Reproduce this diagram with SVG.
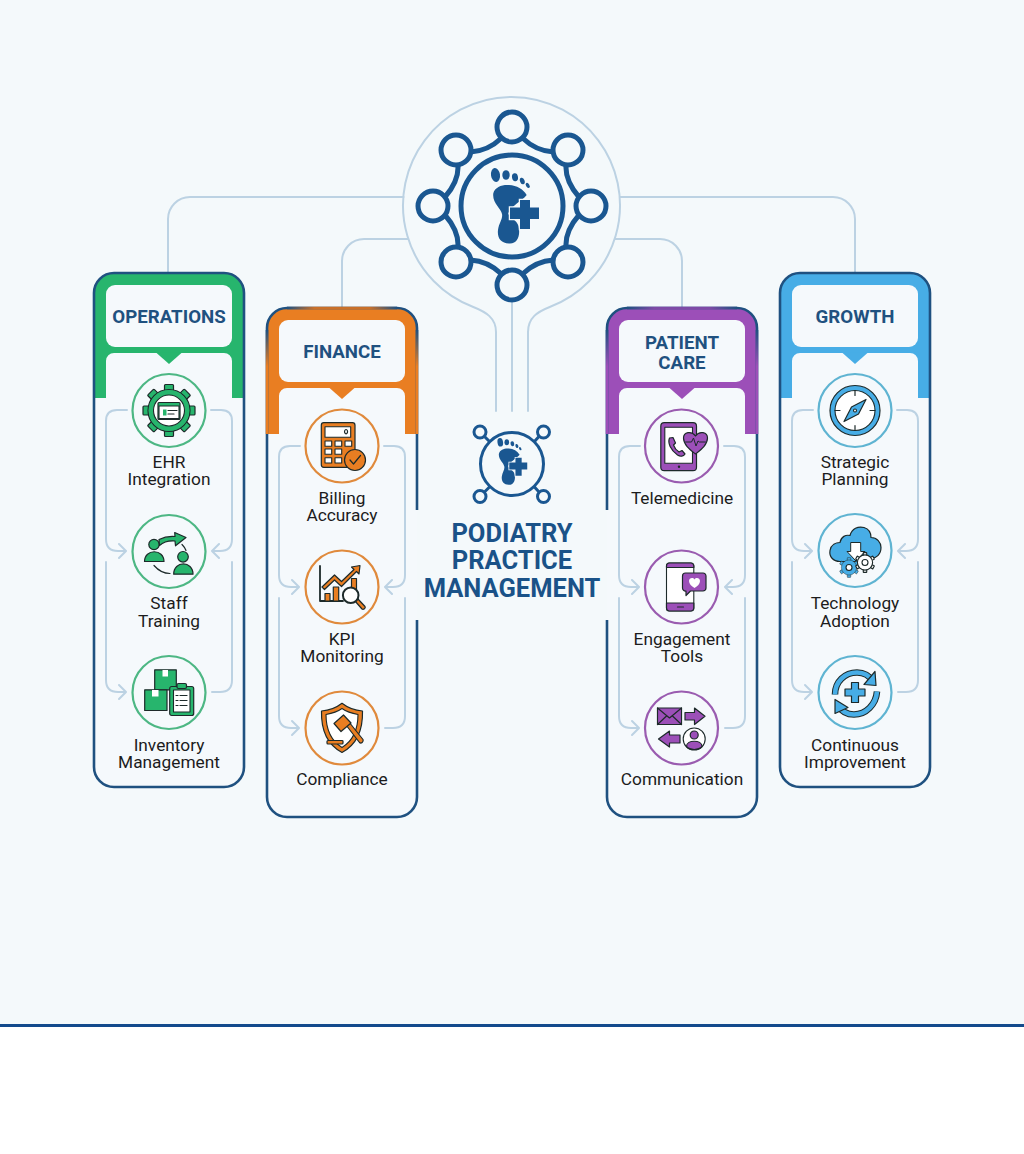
<svg xmlns="http://www.w3.org/2000/svg" xmlns:xlink="http://www.w3.org/1999/xlink" width="1024" height="1154" viewBox="0 0 1024 1154">
<style>
.conn{fill:none;stroke:#bcd2e3;stroke-width:2;stroke-linecap:round;stroke-linejoin:round}
.navy{fill:none;stroke:#1f5180;stroke-width:2.6}
.ring{fill:none;stroke:#1a5791;stroke-width:5}
.ring2{fill:none;stroke:#1a5791;stroke-width:3}
.foot{fill:#1a5791}
.panel{fill:#f5f9fc}
.band{fill:var(--c)}
.disc{fill:#f5f9fc;stroke:var(--d);stroke-width:2.2}
.f{fill:var(--c);stroke:#1d2a2a;stroke-width:1.2;stroke-linejoin:round}
.fn{fill:var(--c)}
.w{fill:#fff;stroke:#1d2a2a;stroke-width:1.1;stroke-linejoin:round}
.l{fill:none;stroke:#1d2a2a;stroke-width:1.2;stroke-linecap:round;stroke-linejoin:round}
.dk{fill:#1d2a2a}
.lab{font-family:Roboto,"Liberation Sans",sans-serif;font-size:17.3px;fill:#1c1c1c;text-anchor:middle}
.head{font-family:Roboto,"Liberation Sans",sans-serif;font-size:18.7px;font-weight:700;fill:#1f5180;text-anchor:middle}
.title{font-family:Roboto,"Liberation Sans",sans-serif;font-size:25.5px;font-weight:700;fill:#1a5288;text-anchor:middle}
#ops{--c:#27b56d;--d:#4db784}
#fin{--c:#e97e22;--d:#e08a3c}
#pat{--c:#9c4fb8;--d:#9a5cb0}
#gro{--c:#47ade6;--d:#5fb4d2}
</style>
<defs>
<linearGradient id="fv" x1="0" y1="0" x2="0" y2="1"><stop offset="0" stop-color="#1f5180"/><stop offset=".35" stop-color="#e97e22"/></linearGradient>
<linearGradient id="fh" x1="0" y1="0" x2="1" y2="0"><stop offset="0" stop-color="#1f5180"/><stop offset=".25" stop-color="#c9702a"/><stop offset=".75" stop-color="#c9702a"/><stop offset="1" stop-color="#1f5180"/></linearGradient>
<linearGradient id="pv" x1="0" y1="0" x2="0" y2="1"><stop offset="0" stop-color="#1f5180"/><stop offset=".35" stop-color="#9c4fb8"/></linearGradient>
<linearGradient id="ph" x1="0" y1="0" x2="1" y2="0"><stop offset="0" stop-color="#1f5180"/><stop offset=".25" stop-color="#7e4aa6"/><stop offset=".75" stop-color="#7e4aa6"/><stop offset="1" stop-color="#1f5180"/></linearGradient>
<g id="flow" class="conn">
<path d="M-42,0H-52Q-63,0 -63,11V129Q-63,141 -51,141H-44M-50,134L-43,141L-50,148"/>
<path d="M-63,152V270Q-63,282 -51,282H-44M-50,275L-43,282L-50,289"/>
<path d="M42,0H52Q63,0 63,11V129Q63,141 51,141H44M50,134L43,141L50,148"/>
<path d="M63,152V270Q63,282 51,282H43"/>
</g>
<g id="footmark">
<ellipse cx="-16.5" cy="-31" rx="4.5" ry="7" transform="rotate(-8 -16.5 -31)"/>
<ellipse cx="-6" cy="-31" rx="3.7" ry="4.8"/>
<ellipse cx="3" cy="-28.7" rx="3" ry="4" transform="rotate(-10 3 -28.7)"/>
<ellipse cx="10.3" cy="-25" rx="2.3" ry="3.4" transform="rotate(-20 10.3 -25)"/>
<ellipse cx="15.7" cy="-20.7" rx="1.7" ry="2.8" transform="rotate(-30 15.7 -20.7)"/>
<path d="M-18.7,-12.7C-17,-19 -10,-21.5 -3,-21C5,-20.5 11,-17 14.7,-11C10,-5 0,-1 -3.7,7.3C-3,12 5,14 6.5,20C8.5,29 6,37 -2,37.5C-11,38 -15,32 -14,24C-13,17 -9,13 -10,8C-11,2 -20,-3 -18.7,-12.7Z"/>
<path d="M8,-6H18V1.5H27V13H18V23H8V13H-2V1.5H8Z" stroke="#f5f9fc" stroke-width="2.5" paint-order="stroke"/>
</g>
<g id="gtooth"><rect x="-4.5" y="-26" width="9" height="8" rx="1"/></g>
</defs>

<rect width="1024" height="1024" fill="#f4f9fb"/>
<rect y="1027" width="1024" height="127" fill="#fff"/>
<rect y="1024" width="1024" height="3" fill="#134a8c"/>

<g id="connectors" class="conn">
<path d="M403.5,197H190A22,22 0 0 0 168,219V273"/>
<path d="M408,239H364A22,22 0 0 0 342,261V308"/>
<path d="M620,197H833A22,22 0 0 1 855,219V273"/>
<path d="M615,239H660A22,22 0 0 1 682,261V308"/>
<path d="M496,411V332C496,318 486,312 473.3,307A108.5,108.5 0 1 1 549.7,307C537,312 528,318 528,332V411"/>
<path d="M512,303V411"/>
</g>

<g id="hub">
<circle class="ring" cx="512" cy="206" r="51"/>
<path class="ring" d="M470.5,152Q488,151 501.5,138M522.5,138Q536,151 553.5,152M566,165Q565,181 579,197M579,215Q565,231 566,247M553.5,260Q536,261 522.5,274M501.5,274Q488,261 470.5,260M458,247Q459,231 445,215M445,197Q459,181 458,165"/>
<circle class="ring" cx="512" cy="127" r="15"/>
<circle class="ring" cx="568" cy="150" r="15"/>
<circle class="ring" cx="591" cy="206" r="15"/>
<circle class="ring" cx="568" cy="262" r="15"/>
<circle class="ring" cx="512" cy="285" r="15"/>
<circle class="ring" cx="456" cy="262" r="15"/>
<circle class="ring" cx="433" cy="206" r="15"/>
<circle class="ring" cx="456" cy="150" r="15"/>
<use xlink:href="#footmark" href="#footmark" class="foot" x="512" y="206"/>
</g>

<g id="center-title">
<circle class="ring2" cx="512" cy="464" r="31.5"/>
<circle class="ring2" cx="480" cy="432" r="6"/>
<circle class="ring2" cx="543.5" cy="432" r="6"/>
<circle class="ring2" cx="480" cy="496.5" r="6"/>
<circle class="ring2" cx="543.5" cy="496.5" r="6"/>
<path class="ring2" d="M484.5,436.5L490,442M539,436.5L534,442M484.5,492L490,486.5M539,492L534,486.5"/>
<use xlink:href="#footmark" href="#footmark" class="foot" transform="translate(510.5,461.5) scale(.62)"/>
<text class="title" x="512" y="541.5">PODIATRY</text>
<text class="title" x="512" y="569">PRACTICE</text>
<text class="title" x="512" y="596.5">MANAGEMENT</text>
</g>

<!-- OPERATIONS -->
<g id="ops">
<path class="panel" d="M94,293A20,20 0 0 1 114,273H224A20,20 0 0 1 244,293V767A20,20 0 0 1 224,787H114A20,20 0 0 1 94,767Z"/>
<path class="band" d="M94,398V293A20,20 0 0 1 114,273H224A20,20 0 0 1 244,293V398H232V361A8,8 0 0 0 224,353H114A8,8 0 0 0 106,361V398Z"/>
<path class="navy" d="M94,293A20,20 0 0 1 114,273H224A20,20 0 0 1 244,293V767A20,20 0 0 1 224,787H114A20,20 0 0 1 94,767Z"/>
<rect class="panel" x="106" y="285" width="126" height="62" rx="9"/>
<polygon class="band" points="156,352.5 182,352.5 169,364"/>
<text class="head" x="169" y="323">OPERATIONS</text>
<use xlink:href="#flow" href="#flow" x="169" y="410"/>
<g id="ops-ehr" transform="translate(169,410.5)">
<circle class="disc" r="36.5"/>
<g class="f"><use xlink:href="#gtooth" href="#gtooth"/><use xlink:href="#gtooth" href="#gtooth" transform="rotate(45)"/><use xlink:href="#gtooth" href="#gtooth" transform="rotate(90)"/><use xlink:href="#gtooth" href="#gtooth" transform="rotate(135)"/><use xlink:href="#gtooth" href="#gtooth" transform="rotate(180)"/><use xlink:href="#gtooth" href="#gtooth" transform="rotate(225)"/><use xlink:href="#gtooth" href="#gtooth" transform="rotate(270)"/><use xlink:href="#gtooth" href="#gtooth" transform="rotate(315)"/><circle r="21"/></g>
<circle class="fn" r="20.3"/>
<circle class="w" r="15.5"/>
<rect class="f" x="-11" y="-8" width="22" height="17" rx="1"/>
<rect class="w" x="-10" y="-4.5" width="20" height="12.5"/>
<rect class="fn" x="-6" y="-1" width="3.5" height="6"/>
<path class="l" d="M-1,0H8M-1,3.5H5"/>
</g>
<text class="lab" x="169" y="468">EHR</text><text class="lab" x="169" y="485">Integration</text>
<g id="ops-staff" transform="translate(169,551.5)">
<circle class="disc" r="36.5"/>
<circle class="f" cx="-15" cy="-7" r="5.2"/>
<path class="f" d="M-24.5,10C-24.5,-3 -5,-3 -5,10Z"/>
<circle class="f" cx="14" cy="5.3" r="5.3"/>
<path class="f" d="M4.7,22.7C4.7,9 24,9 24,22.7Z"/>
<path class="f" d="M-9.5,-6C-5,-10 0,-11 6,-10.5L6.5,-5.7L17,-14L5.7,-19L6,-15C0,-15.5 -6,-14 -10,-12Z"/>
<path class="l" d="M-15,14Q-8,22 1,22M13,-7Q16,-4 17,-1"/>
</g>
<text class="lab" x="169" y="609">Staff</text><text class="lab" x="169" y="626.5">Training</text>
<g id="ops-inventory" transform="translate(169,692.5)">
<circle class="disc" r="36.5"/>
<rect class="f" x="-14.3" y="-22.7" width="21.6" height="20"/>
<rect class="w" x="-6.5" y="-22.5" width="5.5" height="6.5" style="stroke:none"/>
<rect class="f" x="-24.3" y="-2.7" width="22.3" height="20.7"/>
<rect class="w" x="-17" y="-2.5" width="6.5" height="6.5" style="stroke:none"/>
<rect class="f" x="0.7" y="-6" width="24" height="29" rx="2"/>
<rect class="w" x="4.5" y="-2.5" width="16.5" height="22"/>
<rect class="f" x="8" y="-9" width="9.5" height="5" rx="1.5"/>
<path class="l" d="M7,3H9M11,3H18M7,8H9M11,8H18M7,13H9M11,13H18"/>
</g>
<text class="lab" x="169" y="751">Inventory</text><text class="lab" x="169" y="768">Management</text>
</g>

<!-- FINANCE -->
<g id="fin">
<path class="panel" d="M267,328A20,20 0 0 1 287,308H397A20,20 0 0 1 417,328V797A20,20 0 0 1 397,817H287A20,20 0 0 1 267,797Z"/>
<path class="band" d="M267,434V328A20,20 0 0 1 287,308H397A20,20 0 0 1 417,328V434H405V396A8,8 0 0 0 397,388H287A8,8 0 0 0 279,396V434Z"/>
<path class="navy" d="M417,510V328A20,20 0 0 0 397,308H287A20,20 0 0 0 267,328V797A20,20 0 0 0 287,817H397A20,20 0 0 0 417,797V620"/>
<rect x="265.7" y="330" width="2.6" height="104" fill="url(#fv)"/>
<rect x="415.7" y="330" width="2.6" height="104" fill="url(#fv)"/>
<rect x="287" y="306.7" width="110" height="2.6" fill="url(#fh)"/>
<rect class="panel" x="279" y="320" width="126" height="62" rx="9"/>
<polygon class="band" points="329,387.5 355,387.5 342,399"/>
<text class="head" x="342" y="358">FINANCE</text>
<use xlink:href="#flow" href="#flow" x="342" y="446"/>
<g id="fin-billing" transform="translate(342,446)">
<circle class="disc" r="36.5"/>
<rect class="f" x="-20.7" y="-23.3" width="33.7" height="44.6" rx="2.5"/>
<rect class="w" x="-17" y="-19.3" width="25.7" height="10.6"/>
<path class="l" d="M4,-16.5a1.5,2.2 0 1 0 .1,0Z"/>
<g class="w"><rect x="-17" y="-5" width="6.7" height="5.3"/><rect x="-7" y="-5" width="6.7" height="5.3"/><rect x="3" y="-5" width="6.7" height="5.3"/><rect x="-17" y="3" width="6.7" height="5.3"/><rect x="-7" y="3" width="6.7" height="5.3"/><rect x="-17" y="11.7" width="6.7" height="5.3"/><rect x="-7" y="11.7" width="6.7" height="5.3"/></g>
<circle class="f" cx="13" cy="14" r="10.5"/>
<path class="l" d="M8,14L11.5,18L18.5,9.5"/>
</g>
<text class="lab" x="342" y="504">Billing</text><text class="lab" x="342" y="521">Accuracy</text>
<g id="fin-kpi" transform="translate(342,587)">
<circle class="disc" r="36.5"/>
<path class="l" d="M-22,-21V14H1" style="stroke-width:1.8"/>
<rect class="f" x="-17" y="6.5" width="5" height="7.5"/>
<rect class="f" x="-8.7" y="0" width="5.4" height="14"/>
<rect class="f" x="9.5" y="-8.5" width="5" height="11"/>
<path class="f" d="M-20,0L-7.5,-12L-0.5,-5.5L12,-17.5L9.5,-20L18,-21.5L17,-13L14.5,-15.5L-0.5,-0.5L-7.5,-7L-17.5,2.5Z"/>
<path class="f" d="M13,14L15.5,11.5L23,19.5C24,21 21.5,23 20,22Z"/>
<circle class="w" cx="8.7" cy="8.3" r="7.8" style="stroke-width:2"/>
</g>
<text class="lab" x="342" y="645">KPI</text><text class="lab" x="342" y="662">Monitoring</text>
<g id="fin-compliance" transform="translate(342,728)">
<circle class="disc" r="36.5"/>
<path class="f" d="M0,-24.7C6,-20 13,-17.5 20.5,-17C21,3 14,17 0,24.5C-14,17 -21,3 -20.5,-17C-13,-17.5 -6,-20 0,-24.7Z"/>
<path class="w" d="M0,-19.5C5,-16 10.5,-14.5 16,-13.5C16,1 10.5,13 0,19.5C-10.5,13 -16,1 -16,-13.5C-10.5,-14.5 -5,-16 0,-19.5Z"/>
<path class="f" d="M4,-3L7,-6L21,11.5C22,14 19,16 17.5,14.5Z"/>
<path class="f" d="M-8,-4.5L1.5,-13L9,-5L-1,3.5Z"/>
<rect class="f" x="-15" y="12.5" width="16" height="3.5" rx="1"/>
</g>
<text class="lab" x="342" y="785">Compliance</text>
</g>

<!-- PATIENT CARE -->
<g id="pat">
<path class="panel" d="M607,328A20,20 0 0 1 627,308H737A20,20 0 0 1 757,328V797A20,20 0 0 1 737,817H627A20,20 0 0 1 607,797Z"/>
<path class="band" d="M607,434V328A20,20 0 0 1 627,308H737A20,20 0 0 1 757,328V434H745V396A8,8 0 0 0 737,388H627A8,8 0 0 0 619,396V434Z"/>
<path class="navy" d="M607,510V328A20,20 0 0 1 627,308H737A20,20 0 0 1 757,328V797A20,20 0 0 1 737,817H627A20,20 0 0 1 607,797V620"/>
<rect x="605.7" y="330" width="2.6" height="104" fill="url(#pv)"/>
<rect x="755.7" y="330" width="2.6" height="104" fill="url(#pv)"/>
<rect x="627" y="306.7" width="110" height="2.6" fill="url(#ph)"/>
<rect class="panel" x="619" y="320" width="126" height="62" rx="9"/>
<polygon class="band" points="669,387.5 695,387.5 682,399"/>
<text class="head" x="682" y="348.5">PATIENT</text><text class="head" x="682" y="369">CARE</text>
<use xlink:href="#flow" href="#flow" x="682" y="446"/>
<g id="pat-tele" transform="translate(681.5,446)">
<circle class="disc" r="36.5"/>
<rect class="f" x="-20.7" y="-23.3" width="35.7" height="48" rx="3.5"/>
<rect class="w" x="-16.7" y="-18.7" width="27.7" height="36"/>
<circle class="dk" cx="-2.5" cy="20.7" r="1.2"/>
<path class="f" d="M-12,-8C-14,-3 -11,4 -4,9C-1,11 2,10.5 3.5,8L0.5,4.5L-2.5,6C-5,4.5 -7,2 -8,-1L-6,-3L-8.5,-8.5Z"/>
<path class="f" d="M14,8C9,4 2,-1 2,-8C2,-14 10,-15.5 14,-10C18,-15.5 26,-14 26,-8C26,-1 19,4 14,8Z"/>
<path class="l" d="M4,-4H10L12,-8L14.5,0L16.5,-5L18,-4H24" style="stroke-width:1"/>
</g>
<text class="lab" x="682" y="504">Telemedicine</text>
<g id="pat-engage" transform="translate(681.5,587)">
<circle class="disc" r="36.5"/>
<rect class="w" x="-15" y="-24" width="27.3" height="48" rx="3"/>
<path class="f" d="M-15,-19.5V-21A3,3 0 0 1 -12,-24H9.3A3,3 0 0 1 12.3,-21V-19.5Z"/>
<path class="f" d="M-15,16V21A3,3 0 0 0 -12,24H9.3A3,3 0 0 0 12.3,21V16Z"/>
<path class="l" d="M-4,20H2"/>
<path class="f" d="M4,-14H21.5A3,3 0 0 1 24.5,-11V1A3,3 0 0 1 21.5,4H9L4.5,8.5V4A3,3 0 0 1 1,1V-11A3,3 0 0 1 4,-14Z"/>
<path fill="#fff" d="M13,1C10,-1 7.5,-3 7.5,-6C7.5,-9 11.5,-10 13,-7.5C14.5,-10 18.5,-9 18.5,-6C18.5,-3 16,-1 13,1Z"/>
</g>
<text class="lab" x="682" y="645">Engagement</text><text class="lab" x="682" y="662">Tools</text>
<g id="pat-comm" transform="translate(681.5,728)">
<circle class="disc" r="36.5"/>
<rect class="f" x="-24" y="-20" width="24" height="16.5"/>
<path class="l" d="M-24,-20L-12,-10L0,-20M-24,-3.5L-15,-12M0,-3.5L-9,-12"/>
<path class="f" d="M3.5,-15.5H13V-20L23.5,-11.7L13,-3.5V-8H3.5Z"/>
<path class="f" d="M-1.5,7H-12V3L-23,11L-12,19V15H-1.5Z"/>
<circle class="w" cx="12.7" cy="11" r="11"/>
<circle class="f" cx="12.7" cy="7" r="4"/>
<path class="f" d="M5,18.5C5,11.5 20.5,11.5 20.5,18.5C17,22.5 8.5,22.5 5,18.5Z"/>
</g>
<text class="lab" x="682" y="785">Communication</text>
</g>

<!-- GROWTH -->
<g id="gro">
<path class="panel" d="M780,293A20,20 0 0 1 800,273H910A20,20 0 0 1 930,293V767A20,20 0 0 1 910,787H800A20,20 0 0 1 780,767Z"/>
<path class="band" d="M780,398V293A20,20 0 0 1 800,273H910A20,20 0 0 1 930,293V398H918V361A8,8 0 0 0 910,353H800A8,8 0 0 0 792,361V398Z"/>
<path class="navy" d="M780,293A20,20 0 0 1 800,273H910A20,20 0 0 1 930,293V767A20,20 0 0 1 910,787H800A20,20 0 0 1 780,767Z"/>
<rect class="panel" x="792" y="285" width="126" height="62" rx="9"/>
<polygon class="band" points="842,352.5 868,352.5 855,364"/>
<text class="head" x="855" y="323">GROWTH</text>
<use xlink:href="#flow" href="#flow" x="855" y="410"/>
<g id="gro-strategic" transform="translate(855,410.5)">
<circle class="disc" r="36.5"/>
<circle class="f" r="25"/>
<circle class="w" r="20"/>
<path class="l" d="M0,-20V-15M0,20V15M-20,0H-15M20,0H15"/>
<path class="f" d="M11,-11L3.5,3.5L-11,11L-3.5,-3.5Z"/>
<circle class="w" cx="0" cy="0" r="1.5"/>
</g>
<text class="lab" x="855" y="468">Strategic</text><text class="lab" x="855" y="485">Planning</text>
<g id="gro-tech" transform="translate(855,550.5)">
<circle class="disc" r="36.5"/>
<path class="f" d="M-15,11C-22,11 -26,6 -25,0C-24,-6 -19,-8 -15,-8C-14,-14 -9,-16 -5,-15C-3,-22 3,-24.5 9,-23C14,-21.5 16,-17 16,-13C22,-13 26,-8 26,-3C26,4 21,8 16,8L8,11Z"/>
<path d="M-4.3,-8H5.7V1H10L1,10.5L-8,1H-4.3Z" fill="#fff" stroke="#1d2a2a" stroke-width="1"/>
<g transform="translate(-6,17) scale(.38)" class="f"><use xlink:href="#gtooth" href="#gtooth"/><use xlink:href="#gtooth" href="#gtooth" transform="rotate(60)"/><use xlink:href="#gtooth" href="#gtooth" transform="rotate(120)"/><use xlink:href="#gtooth" href="#gtooth" transform="rotate(180)"/><use xlink:href="#gtooth" href="#gtooth" transform="rotate(240)"/><use xlink:href="#gtooth" href="#gtooth" transform="rotate(300)"/><circle r="20"/></g>
<circle class="w" cx="-6" cy="17" r="3"/>
<g transform="translate(10,12) scale(.38)" style="fill:#fff;stroke:#1d2a2a;stroke-width:3"><use xlink:href="#gtooth" href="#gtooth"/><use xlink:href="#gtooth" href="#gtooth" transform="rotate(60)"/><use xlink:href="#gtooth" href="#gtooth" transform="rotate(120)"/><use xlink:href="#gtooth" href="#gtooth" transform="rotate(180)"/><use xlink:href="#gtooth" href="#gtooth" transform="rotate(240)"/><use xlink:href="#gtooth" href="#gtooth" transform="rotate(300)"/><circle r="20"/></g>
<circle class="w" cx="10" cy="12" r="3"/>
</g>
<text class="lab" x="855" y="609">Technology</text><text class="lab" x="855" y="626.5">Adoption</text>
<g id="gro-improve" transform="translate(855,692.5)">
<circle class="disc" r="36.5"/>
<path fill="none" stroke="#1d2a2a" stroke-width="6.6" d="M-20,2C-20,-11 -10,-20 2,-20C10,-20 15,-16 18,-11"/>
<path fill="none" stroke="#47ade6" stroke-width="4.6" d="M-20,2C-20,-11 -10,-20 2,-20C10,-20 15,-16 18,-11"/>
<polygon class="f" points="20,-21 21,-7 9,-8"/>
<path fill="none" stroke="#1d2a2a" stroke-width="6.6" d="M22,-1C21,12 11,22 -1,22C-9,22 -14,18 -17,13"/>
<path fill="none" stroke="#47ade6" stroke-width="4.6" d="M22,-1C21,12 11,22 -1,22C-9,22 -14,18 -17,13"/>
<polygon class="f" points="-20,7 -20,21 -7,15"/>
<path class="f" d="M-3.5,-10H3.5V-3.5H10V3.5H3.5V10H-3.5V3.5H-10V-3.5H-3.5Z"/>
</g>
<text class="lab" x="855" y="751">Continuous</text><text class="lab" x="855" y="768">Improvement</text>
</g>
</svg>
